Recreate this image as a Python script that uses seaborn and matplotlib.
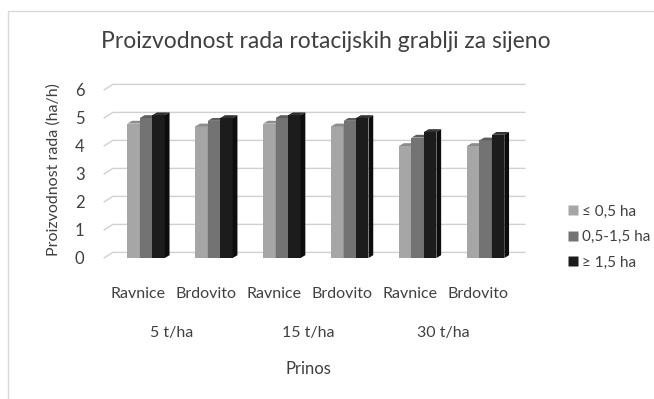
import matplotlib
matplotlib.use("Agg")
import matplotlib.pyplot as plt
from matplotlib.patches import Polygon
from matplotlib.lines import Line2D
from matplotlib.transforms import ScaledTranslation
import seaborn as sns
import pandas as pd

# Data
terrain = ["Ravnice", "Brdovito", "Ravnice", "Brdovito", "Ravnice", "Brdovito"]
yields = ["5 t/ha", "15 t/ha", "30 t/ha"]
series = ["\u2264 0,5 ha", "0,5-1,5 ha", "\u2265 1,5 ha"]
small = [4.8, 4.7, 4.8, 4.7, 4.0, 4.0]
medium = [5.0, 4.9, 5.0, 4.9, 4.3, 4.2]
large = [5.1, 5.0, 5.1, 5.0, 4.5, 4.4]
yticks = [0, 1, 2, 3, 4, 5, 6]

colors = ["#a6a6a6", "#737373", "#1c1c1c"]
tops = ["#8c8c8c", "#5e5e5e", "#333333"]
sides = ["#7a7a7a", "#4d4d4d", "#0d0d0d"]

cats = [f"{t}\n{i}" for i, t in enumerate(terrain)]
rows = []
for s, vals in zip(series, [small, medium, large]):
    for c, v in zip(cats, vals):
        rows.append({"cat": c, "series": s, "value": v})
df = pd.DataFrame(rows)

sns.set_theme(style="white")
plt.rcParams["font.family"] = ["Lato", "DejaVu Sans"]
text_c = "#404040"

fig = plt.figure(figsize=(6.54, 3.99), dpi=100)
ax = fig.add_axes([104 / 654, 1 - 258 / 399, 421 / 654, (6.35 * 28) / 399])

sns.barplot(data=df, x="cat", y="value", hue="series", order=cats,
            hue_order=series, palette=colors, width=0.55, saturation=1,
            edgecolor="none", linewidth=0, legend=False, ax=ax)

x_left, x_right = -0.62, 5.58
ax.set_xlim(x_left, x_right)
ax.set_ylim(0, 6.35)

# back wall gridlines with a short diagonal at the left
ddx, ddy = 0.13, 0.2
for v in yticks:
    ax.plot([x_left, x_left + ddx, x_right], [v, v + ddy, v + ddy],
            color="#d0d0d0", lw=1.0, zorder=0, clip_on=False)

# pseudo-3D top and side faces on each bar
bdx, bdy = 0.07, 0.1
for k, cont in enumerate(ax.containers):
    for p in cont.patches:
        x0, w, h = p.get_x(), p.get_width(), p.get_height()
        top = Polygon([(x0, h), (x0 + bdx, h + bdy), (x0 + w + bdx, h + bdy), (x0 + w, h)],
                      closed=True, facecolor=tops[k], edgecolor="none", zorder=3 + k)
        side = Polygon([(x0 + w, 0), (x0 + w + bdx, bdy), (x0 + w + bdx, h + bdy), (x0 + w, h)],
                       closed=True, facecolor=sides[k], edgecolor="none", zorder=3 + k)
        p.set_zorder(3 + k)
        ax.add_patch(top)
        ax.add_patch(side)

for s in ax.spines.values():
    s.set_visible(False)
ax.grid(False)
ax.set_yticks(yticks)
ax.set_yticklabels([str(v) for v in yticks], fontsize=12, color=text_c)
ax.tick_params(axis="y", length=0, pad=14)
ax.set_xticks(range(len(terrain)))
ax.set_xticklabels(terrain, fontsize=11.5, color=text_c)
ax.tick_params(axis="x", length=0, pad=21)

# category labels sit on the front edge of the 3D floor, a little left of the bars
front_shift = ScaledTranslation(-8 / 100, 0, fig.dpi_scale_trans)
for lab in ax.get_xticklabels():
    lab.set_transform(lab.get_transform() + front_shift)

ax.set_xlabel("")
ax.set_ylabel("Proizvodnost rada (ha/h)", fontsize=11.5, color=text_c, labelpad=10)

# yield group labels under each pair of categories
for i, g in enumerate(yields):
    ax.text(2 * i + 0.5, -75 / 28, g, ha="center", va="center",
            fontsize=11.5, color=text_c, transform=ax.transData + front_shift,
            clip_on=False)
fig.text(308 / 654, 1 - 369 / 399, "Prinos", ha="center", va="center",
         fontsize=12, color=text_c)

fig.text(326 / 654, 1 - 42 / 399, "Proizvodnost rada rotacijskih grablji za sijeno",
         ha="center", va="center", fontsize=16.5, color=text_c)

handles = [Line2D([], [], marker="s", linestyle="none", markersize=7,
                  markerfacecolor=c, markeredgecolor="none") for c in colors]
fig.legend(handles, series, loc="center left", bbox_to_anchor=(558 / 654, 1 - 237 / 399),
           frameon=False, fontsize=11, labelcolor=text_c, handletextpad=0.1,
           labelspacing=0.75, borderpad=0, handlelength=1.0)

# chart area border (left and top)
fig.add_artist(Line2D([8 / 654, 8 / 654], [0, 1 - 11 / 399], color="#d9d9d9", lw=1,
                      transform=fig.transFigure))
fig.add_artist(Line2D([8 / 654, 1], [1 - 11 / 399, 1 - 11 / 399], color="#d9d9d9", lw=1,
                      transform=fig.transFigure))

fig.savefig("out.png", dpi=100, facecolor="white")
